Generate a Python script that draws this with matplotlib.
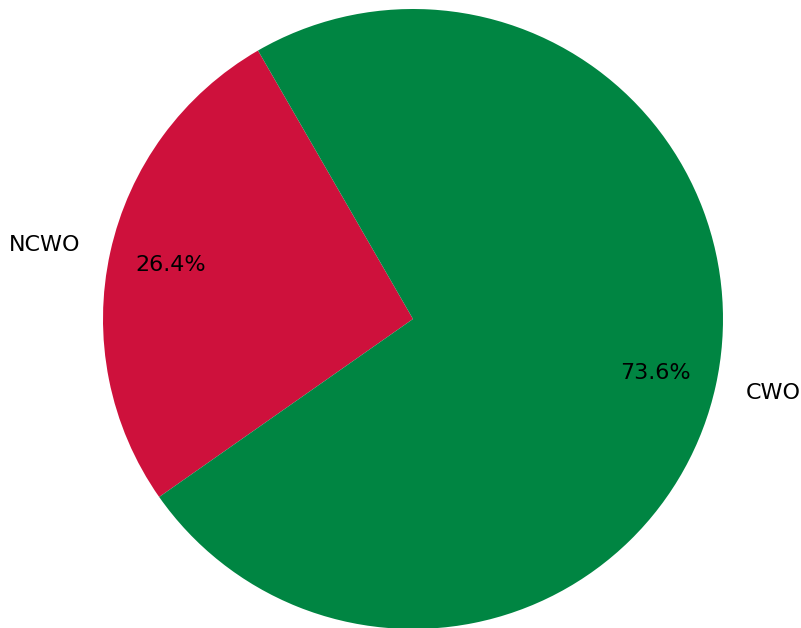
import matplotlib.pyplot as plt

labels = ['NCWO', 'CWO']
shares = [26.4, 73.6]
colors = ['#CE113C', '#008542']

fig = plt.figure(figsize=(8.01, 6.28), dpi=100)
ax = fig.add_axes([0, 0, 1, 1])

ax.pie(shares, labels=labels, colors=colors, autopct='%1.1f%%',
       startangle=120, pctdistance=0.8, labeldistance=1.1,
       textprops={'fontsize': 16})

# pie centre sits at about (413, 319) px with a 310 px radius
ax.set_xlim(-413 / 310, 388 / 310)
ax.set_ylim(-309 / 310, 319 / 310)
ax.set_aspect('auto')
ax.axis('off')

plt.savefig('out.png', dpi=100)
